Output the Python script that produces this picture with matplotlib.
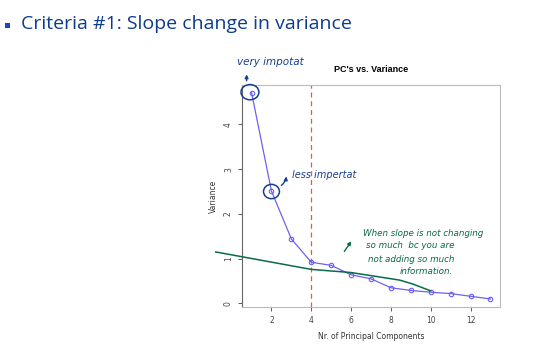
import matplotlib
matplotlib.use("Agg")
import matplotlib.pyplot as plt
from matplotlib.patches import Ellipse, FancyArrowPatch, Rectangle

# ---- data ----
pcs = [1, 2, 3, 4, 5, 6, 7, 8, 9, 10, 11, 12, 13]
variance = [4.71, 2.51, 1.44, 0.92, 0.85, 0.64, 0.55, 0.35, 0.29, 0.25, 0.22, 0.16, 0.10]
cutoff_pc = 4
green_x = [-0.8, 4, 6, 8.45, 9.12, 10]
green_y = [1.15, 0.76, 0.69, 0.52, 0.43, 0.28]
xticks = [2, 4, 6, 8, 10, 12]
yticks = [0, 1, 2, 3, 4]

W, H = 535, 346
fig = plt.figure(figsize=(W / 100, H / 100), dpi=100)
fig.patch.set_facecolor("white")

def fx(x):
    return x / W
def fy(y):
    return 1 - y / H

# slide title
fig.add_artist(Rectangle((fx(5), fy(28)), 5 / W, 5 / H, transform=fig.transFigure,
                         color="#1a44c8", lw=0))
fig.text(fx(21), fy(24), "Criteria #1: Slope change in variance", color="#0d3b8e",
         fontsize=14, va="center", ha="left", family="Open Sans")

# axes
L, R_, T, B = 242, 500, 85, 307
ax = fig.add_axes([fx(L), fy(B), (R_ - L) / W, (B - T) / H])
ax.plot(pcs, variance, color="#7060f0", lw=0.9, marker="o", ms=3.2,
        mfc="none", mec="#6a5cf5", mew=0.8, zorder=3)
ax.axvline(cutoff_pc, color="#e8554f", lw=0.9, ls=(0, (4, 3)), zorder=2)
ax.set_xlim(0.52, 13.48)
ax.set_ylim(-0.08, 4.88)
ax.set_xticks(xticks)
ax.set_yticks(yticks)
ax.tick_params(axis="both", labelsize=5.5, colors="#444444", length=3, width=0.6)
ax.tick_params(axis="y", labelrotation=90)
for lab in ax.get_yticklabels():
    lab.set_va("center")
ax.set_title("PC's vs. Variance", fontsize=6.5, fontweight="bold", pad=9,
             family="Liberation Sans")
ax.set_xlabel("Nr. of Principal Components", fontsize=5.5, color="#333333", labelpad=5)
ax.set_ylabel("Variance", fontsize=5.5, color="#333333", labelpad=4)
for s in ax.spines.values():
    s.set_color("#bbbbbb")
    s.set_linewidth(0.8)
ax.spines["left"].set_color("#666666")

# hand-drawn annotations
blue = "#173f8f"
green = "#0a6a4a"
ax.plot(green_x, green_y, color=green, lw=1.1, clip_on=False, zorder=4)

ax.add_patch(Ellipse((0.92, 4.72), 0.9, 0.34, fill=False, ec=blue, lw=1.1,
                     clip_on=False, zorder=5))
ax.add_patch(Ellipse((2.0, 2.5), 0.8, 0.32, fill=False, ec=blue, lw=1.1,
                     clip_on=False, zorder=5))
ax.add_patch(FancyArrowPatch((0.75, 4.91), (0.75, 5.18), arrowstyle="-|>",
                             mutation_scale=5, color=blue, lw=1.0, clip_on=False))
ax.add_patch(FancyArrowPatch((2.38, 2.6), (2.75, 2.9), arrowstyle="-|>",
                             connectionstyle="arc3,rad=0.3",
                             mutation_scale=5, color=blue, lw=1.0, clip_on=False))
ax.add_patch(FancyArrowPatch((5.58, 1.11), (6.09, 1.44), arrowstyle="-|>",
                             mutation_scale=5, color=green, lw=1.0, clip_on=False))

fig.text(fx(237), fy(62), "very impotat", color=blue, fontsize=7.5, style="italic",
         va="center", ha="left", family="DejaVu Sans")
fig.text(fx(292), fy(175), "less impertat", color=blue, fontsize=7, style="italic",
         va="center", ha="left", family="DejaVu Sans")
green_lines = ["When slope is not changing", "so much  bc you are",
               "not adding so much", "information."]
gx = [363, 366, 368, 400]
gy = [233, 246, 259, 271]
for t, x, y in zip(green_lines, gx, gy):
    fig.text(fx(x), fy(y), t, color=green, fontsize=6.3, style="italic",
             va="center", ha="left", family="DejaVu Sans")

fig.savefig("out.png", dpi=100, facecolor="white")
